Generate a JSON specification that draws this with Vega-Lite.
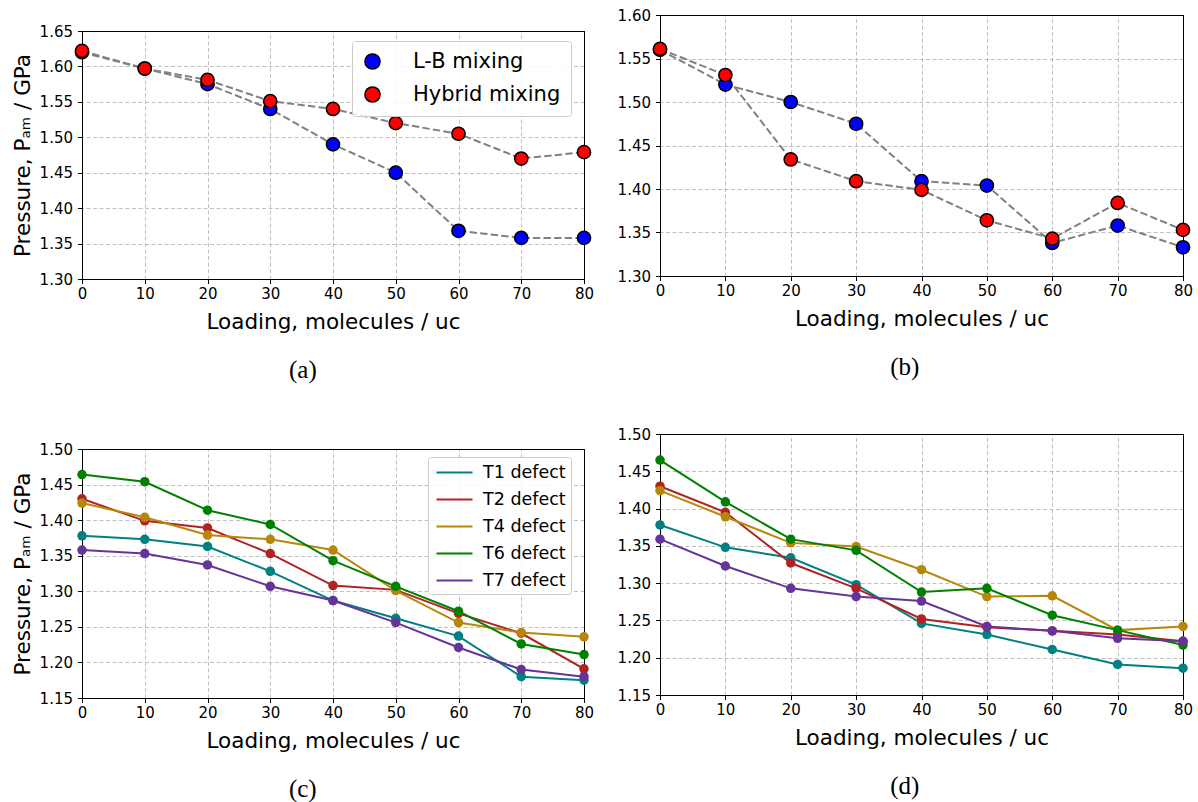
{
  "$schema": "https://vega.github.io/schema/vega-lite/v6.json",
  "padding": {"left": 11, "top": 7, "right": 0, "bottom": 0},
  "background": "white",
  "datasets": {
    "a": [
      {"x": 0, "p": 1.620, "s": "L-B mixing"},
      {"x": 10, "p": 1.597, "s": "L-B mixing"},
      {"x": 20, "p": 1.575, "s": "L-B mixing"},
      {"x": 30, "p": 1.540, "s": "L-B mixing"},
      {"x": 40, "p": 1.490, "s": "L-B mixing"},
      {"x": 50, "p": 1.450, "s": "L-B mixing"},
      {"x": 60, "p": 1.368, "s": "L-B mixing"},
      {"x": 70, "p": 1.358, "s": "L-B mixing"},
      {"x": 80, "p": 1.358, "s": "L-B mixing"},
      {"x": 0, "p": 1.622, "s": "Hybrid mixing"},
      {"x": 10, "p": 1.597, "s": "Hybrid mixing"},
      {"x": 20, "p": 1.581, "s": "Hybrid mixing"},
      {"x": 30, "p": 1.551, "s": "Hybrid mixing"},
      {"x": 40, "p": 1.540, "s": "Hybrid mixing"},
      {"x": 50, "p": 1.520, "s": "Hybrid mixing"},
      {"x": 60, "p": 1.505, "s": "Hybrid mixing"},
      {"x": 70, "p": 1.470, "s": "Hybrid mixing"},
      {"x": 80, "p": 1.479, "s": "Hybrid mixing"}
    ],
    "b": [
      {"x": 0, "p": 1.560, "s": "L-B mixing"},
      {"x": 10, "p": 1.520, "s": "L-B mixing"},
      {"x": 20, "p": 1.500, "s": "L-B mixing"},
      {"x": 30, "p": 1.475, "s": "L-B mixing"},
      {"x": 40, "p": 1.409, "s": "L-B mixing"},
      {"x": 50, "p": 1.404, "s": "L-B mixing"},
      {"x": 60, "p": 1.338, "s": "L-B mixing"},
      {"x": 70, "p": 1.358, "s": "L-B mixing"},
      {"x": 80, "p": 1.333, "s": "L-B mixing"},
      {"x": 0, "p": 1.561, "s": "Hybrid mixing"},
      {"x": 10, "p": 1.531, "s": "Hybrid mixing"},
      {"x": 20, "p": 1.434, "s": "Hybrid mixing"},
      {"x": 30, "p": 1.409, "s": "Hybrid mixing"},
      {"x": 40, "p": 1.399, "s": "Hybrid mixing"},
      {"x": 50, "p": 1.364, "s": "Hybrid mixing"},
      {"x": 60, "p": 1.343, "s": "Hybrid mixing"},
      {"x": 70, "p": 1.384, "s": "Hybrid mixing"},
      {"x": 80, "p": 1.353, "s": "Hybrid mixing"}
    ],
    "c": [
      {"x": 0, "p": 1.378, "s": "T1 defect"},
      {"x": 10, "p": 1.373, "s": "T1 defect"},
      {"x": 20, "p": 1.363, "s": "T1 defect"},
      {"x": 30, "p": 1.328, "s": "T1 defect"},
      {"x": 40, "p": 1.287, "s": "T1 defect"},
      {"x": 50, "p": 1.262, "s": "T1 defect"},
      {"x": 60, "p": 1.237, "s": "T1 defect"},
      {"x": 70, "p": 1.180, "s": "T1 defect"},
      {"x": 80, "p": 1.175, "s": "T1 defect"},
      {"x": 0, "p": 1.430, "s": "T2 defect"},
      {"x": 10, "p": 1.399, "s": "T2 defect"},
      {"x": 20, "p": 1.389, "s": "T2 defect"},
      {"x": 30, "p": 1.353, "s": "T2 defect"},
      {"x": 40, "p": 1.308, "s": "T2 defect"},
      {"x": 50, "p": 1.302, "s": "T2 defect"},
      {"x": 60, "p": 1.269, "s": "T2 defect"},
      {"x": 70, "p": 1.241, "s": "T2 defect"},
      {"x": 80, "p": 1.191, "s": "T2 defect"},
      {"x": 0, "p": 1.424, "s": "T4 defect"},
      {"x": 10, "p": 1.404, "s": "T4 defect"},
      {"x": 20, "p": 1.379, "s": "T4 defect"},
      {"x": 30, "p": 1.373, "s": "T4 defect"},
      {"x": 40, "p": 1.358, "s": "T4 defect"},
      {"x": 50, "p": 1.301, "s": "T4 defect"},
      {"x": 60, "p": 1.256, "s": "T4 defect"},
      {"x": 70, "p": 1.242, "s": "T4 defect"},
      {"x": 80, "p": 1.236, "s": "T4 defect"},
      {"x": 0, "p": 1.464, "s": "T6 defect"},
      {"x": 10, "p": 1.454, "s": "T6 defect"},
      {"x": 20, "p": 1.414, "s": "T6 defect"},
      {"x": 30, "p": 1.394, "s": "T6 defect"},
      {"x": 40, "p": 1.343, "s": "T6 defect"},
      {"x": 50, "p": 1.307, "s": "T6 defect"},
      {"x": 60, "p": 1.272, "s": "T6 defect"},
      {"x": 70, "p": 1.226, "s": "T6 defect"},
      {"x": 80, "p": 1.211, "s": "T6 defect"},
      {"x": 0, "p": 1.358, "s": "T7 defect"},
      {"x": 10, "p": 1.353, "s": "T7 defect"},
      {"x": 20, "p": 1.337, "s": "T7 defect"},
      {"x": 30, "p": 1.307, "s": "T7 defect"},
      {"x": 40, "p": 1.287, "s": "T7 defect"},
      {"x": 50, "p": 1.256, "s": "T7 defect"},
      {"x": 60, "p": 1.221, "s": "T7 defect"},
      {"x": 70, "p": 1.190, "s": "T7 defect"},
      {"x": 80, "p": 1.180, "s": "T7 defect"}
    ],
    "d": [
      {"x": 0, "p": 1.378, "s": "T1 defect"},
      {"x": 10, "p": 1.348, "s": "T1 defect"},
      {"x": 20, "p": 1.334, "s": "T1 defect"},
      {"x": 30, "p": 1.298, "s": "T1 defect"},
      {"x": 40, "p": 1.246, "s": "T1 defect"},
      {"x": 50, "p": 1.231, "s": "T1 defect"},
      {"x": 60, "p": 1.211, "s": "T1 defect"},
      {"x": 70, "p": 1.191, "s": "T1 defect"},
      {"x": 80, "p": 1.186, "s": "T1 defect"},
      {"x": 0, "p": 1.430, "s": "T2 defect"},
      {"x": 10, "p": 1.395, "s": "T2 defect"},
      {"x": 20, "p": 1.327, "s": "T2 defect"},
      {"x": 30, "p": 1.293, "s": "T2 defect"},
      {"x": 40, "p": 1.252, "s": "T2 defect"},
      {"x": 50, "p": 1.241, "s": "T2 defect"},
      {"x": 60, "p": 1.236, "s": "T2 defect"},
      {"x": 70, "p": 1.231, "s": "T2 defect"},
      {"x": 80, "p": 1.222, "s": "T2 defect"},
      {"x": 0, "p": 1.424, "s": "T4 defect"},
      {"x": 10, "p": 1.389, "s": "T4 defect"},
      {"x": 20, "p": 1.354, "s": "T4 defect"},
      {"x": 30, "p": 1.349, "s": "T4 defect"},
      {"x": 40, "p": 1.318, "s": "T4 defect"},
      {"x": 50, "p": 1.282, "s": "T4 defect"},
      {"x": 60, "p": 1.283, "s": "T4 defect"},
      {"x": 70, "p": 1.237, "s": "T4 defect"},
      {"x": 80, "p": 1.242, "s": "T4 defect"},
      {"x": 0, "p": 1.465, "s": "T6 defect"},
      {"x": 10, "p": 1.409, "s": "T6 defect"},
      {"x": 20, "p": 1.359, "s": "T6 defect"},
      {"x": 30, "p": 1.344, "s": "T6 defect"},
      {"x": 40, "p": 1.288, "s": "T6 defect"},
      {"x": 50, "p": 1.293, "s": "T6 defect"},
      {"x": 60, "p": 1.257, "s": "T6 defect"},
      {"x": 70, "p": 1.237, "s": "T6 defect"},
      {"x": 80, "p": 1.217, "s": "T6 defect"},
      {"x": 0, "p": 1.359, "s": "T7 defect"},
      {"x": 10, "p": 1.323, "s": "T7 defect"},
      {"x": 20, "p": 1.293, "s": "T7 defect"},
      {"x": 30, "p": 1.282, "s": "T7 defect"},
      {"x": 40, "p": 1.276, "s": "T7 defect"},
      {"x": 50, "p": 1.242, "s": "T7 defect"},
      {"x": 60, "p": 1.236, "s": "T7 defect"},
      {"x": 70, "p": 1.226, "s": "T7 defect"},
      {"x": 80, "p": 1.222, "s": "T7 defect"}
    ]
  },
  "config": {
    "font": "DejaVu Sans",
    "view": {"stroke": "#000000", "strokeWidth": 1},
    "axis": {
      "labelFont": "DejaVu Sans", "labelFontSize": 15, "labelColor": "#000000",
      "titleFont": "DejaVu Sans", "titleFontSize": 21.5, "titleFontWeight": "normal", "titleColor": "#000000",
      "domainColor": "#000000", "domainWidth": 1, "tickColor": "#000000", "tickSize": 4.5, "tickWidth": 1,
      "gridColor": "#b0b0b0", "gridDash": [4, 2.5], "gridWidth": 0.8, "labelFlush": false
    },
    "axisX": {"labelPadding": 3, "titlePadding": 10},
    "axisY": {"labelPadding": 5, "titlePadding": 5},
    "title": {"font": "Liberation Serif", "fontSize": 25, "fontWeight": "normal", "color": "#000000", "anchor": "middle", "frame": "bounds"},
    "legend": {"labelFont": "DejaVu Sans", "labelColor": "#000000", "fillColor": "rgba(255,255,255,0.85)", "strokeColor": "#cccccc", "cornerRadius": 3}
  },
  "spacing": 21,
  "resolve": {"scale": {"color": "independent", "fill": "independent"}, "legend": {"color": "independent", "fill": "independent"}},
  "hconcat": [
    {
      "spacing": 7,
      "resolve": {"scale": {"color": "independent", "fill": "independent"}, "legend": {"color": "independent", "fill": "independent"}},
      "vconcat": [
        {
          "width": 502, "height": 1,
          "data": {"values": []},
          "mark": {"type": "point"},
          "view": {"stroke": null}
        },
        {
          "spacing": 57,
          "resolve": {"scale": {"color": "independent", "fill": "independent"}, "legend": {"color": "independent", "fill": "independent"}},
          "vconcat": [
            {
              "width": 502, "height": 248,
              "data": {"name": "a"},
              "title": {"text": "(a)", "orient": "bottom", "offset": 25},
              "resolve": {"axis": {"x": "independent", "y": "independent"}},
              "layer": [
                {"mark": {"type": "line", "color": "#808080", "strokeDash": [7.4, 3.2], "strokeWidth": 2},
                 "encoding": {
                   "x": {"field": "x", "type": "quantitative", "scale": {"domain": [0, 80], "nice": false}, "axis": {"values": [0, 10, 20, 30, 40, 50, 60, 70, 80], "title": "Loading, molecules / uc", "grid": false}},
                   "y": {"field": "p", "type": "quantitative", "scale": {"domain": [1.30, 1.65], "nice": false, "zero": false}, "axis": {"values": [1.30, 1.35, 1.40, 1.45, 1.50, 1.55, 1.60, 1.65], "format": ".2f", "title": "Pressure, Pₐₘ / GPa", "grid": false}},
                   "detail": {"field": "s"}}},
                {"mark": {"type": "point", "shape": "circle", "filled": true, "stroke": "#000000", "strokeWidth": 1.5, "size": 175, "opacity": 1},
                 "encoding": {
                   "x": {"field": "x", "type": "quantitative", "scale": {"domain": [0, 80], "nice": false}, "axis": {"orient": "top", "values": [10, 20, 30, 40, 50, 60, 70], "grid": true, "labels": false, "ticks": false, "domain": true, "title": null}},
                   "y": {"field": "p", "type": "quantitative", "scale": {"domain": [1.30, 1.65], "nice": false, "zero": false}, "axis": {"orient": "right", "values": [1.35, 1.40, 1.45, 1.50, 1.55, 1.60], "grid": true, "labels": false, "ticks": false, "domain": true, "title": null}},
                   "fill": {"field": "s", "type": "nominal", "scale": {"domain": ["L-B mixing", "Hybrid mixing"], "range": ["#0000ff", "#ff0000"]},
                   "legend": {"title": null, "orient": "none", "legendX": 270, "legendY": 10, "labelFontSize": 21, "symbolType": "circle", "symbolSize": 230, "symbolStrokeColor": "#000000", "symbolStrokeWidth": 1.5, "symbolOpacity": 1, "labelOffset": 30, "padding": 10, "rowPadding": 10, "symbolOffset": 0}}}}
              ]
            },
            {
              "width": 502, "height": 249,
              "data": {"name": "c"},
              "title": {"text": "(c)", "orient": "bottom", "offset": 25},
              "resolve": {"axis": {"x": "independent", "y": "independent"}},
              "layer": [
                {"mark": {"type": "line", "strokeWidth": 2},
                 "encoding": {
                   "x": {"field": "x", "type": "quantitative", "scale": {"domain": [0, 80], "nice": false}, "axis": {"values": [0, 10, 20, 30, 40, 50, 60, 70, 80], "title": "Loading, molecules / uc", "grid": false}},
                   "y": {"field": "p", "type": "quantitative", "scale": {"domain": [1.15, 1.50], "nice": false, "zero": false}, "axis": {"values": [1.15, 1.20, 1.25, 1.30, 1.35, 1.40, 1.45, 1.50], "format": ".2f", "title": "Pressure, Pₐₘ / GPa", "grid": false}},
                   "color": {"field": "s", "type": "nominal", "scale": {"domain": ["T1 defect", "T2 defect", "T4 defect", "T6 defect", "T7 defect"], "range": ["#008080", "#b22222", "#b8860b", "#008000", "#663399"]},
                     "legend": {"title": null, "orient": "none", "legendX": 346, "legendY": 8, "labelFontSize": 17.5, "symbolType": "M-2,0H2", "symbolSize": 324, "symbolStrokeWidth": 2.2, "symbolFillColor": "transparent", "labelOffset": 18, "symbolOffset": 11, "padding": 5, "rowPadding": 8}}}},
                {"mark": {"type": "circle", "size": 90, "opacity": 1},
                 "encoding": {
                   "x": {"field": "x", "type": "quantitative", "scale": {"domain": [0, 80], "nice": false}, "axis": {"orient": "top", "values": [10, 20, 30, 40, 50, 60, 70], "grid": true, "labels": false, "ticks": false, "domain": true, "title": null}},
                   "y": {"field": "p", "type": "quantitative", "scale": {"domain": [1.15, 1.50], "nice": false, "zero": false}, "axis": {"orient": "right", "values": [1.20, 1.25, 1.30, 1.35, 1.40, 1.45], "grid": true, "labels": false, "ticks": false, "domain": true, "title": null}},
                   "color": {"field": "s", "type": "nominal", "scale": {"domain": ["T1 defect", "T2 defect", "T4 defect", "T6 defect", "T7 defect"], "range": ["#008080", "#b22222", "#b8860b", "#008000", "#663399"]}}}}
              ]
            }
          ]
        }
      ]
    },
    {
      "spacing": 45,
      "resolve": {"scale": {"color": "independent", "fill": "independent"}, "legend": {"color": "independent", "fill": "independent"}},
      "vconcat": [
        {
          "width": 523, "height": 261,
          "data": {"name": "b"},
          "title": {"text": "(b)", "orient": "bottom", "offset": 25},
          "resolve": {"axis": {"x": "independent", "y": "independent"}},
          "layer": [
            {"mark": {"type": "line", "color": "#808080", "strokeDash": [7.4, 3.2], "strokeWidth": 2},
             "encoding": {
               "x": {"field": "x", "type": "quantitative", "scale": {"domain": [0, 80], "nice": false}, "axis": {"values": [0, 10, 20, 30, 40, 50, 60, 70, 80], "title": "Loading, molecules / uc", "grid": false}},
               "y": {"field": "p", "type": "quantitative", "scale": {"domain": [1.30, 1.60], "nice": false, "zero": false}, "axis": {"values": [1.30, 1.35, 1.40, 1.45, 1.50, 1.55, 1.60], "format": ".2f", "title": null, "grid": false}},
               "detail": {"field": "s"}}},
            {"mark": {"type": "point", "shape": "circle", "filled": true, "stroke": "#000000", "strokeWidth": 1.5, "size": 175, "opacity": 1},
             "encoding": {
               "x": {"field": "x", "type": "quantitative", "scale": {"domain": [0, 80], "nice": false}, "axis": {"orient": "top", "values": [10, 20, 30, 40, 50, 60, 70], "grid": true, "labels": false, "ticks": false, "domain": true, "title": null}},
               "y": {"field": "p", "type": "quantitative", "scale": {"domain": [1.30, 1.60], "nice": false, "zero": false}, "axis": {"orient": "right", "values": [1.35, 1.40, 1.45, 1.50, 1.55], "grid": true, "labels": false, "ticks": false, "domain": true, "title": null}},
               "fill": {"field": "s", "type": "nominal", "scale": {"domain": ["L-B mixing", "Hybrid mixing"], "range": ["#0000ff", "#ff0000"]}, "legend": null}}}
          ]
        },
        {
          "width": 523, "height": 261,
          "data": {"name": "d"},
          "title": {"text": "(d)", "orient": "bottom", "offset": 25},
          "resolve": {"axis": {"x": "independent", "y": "independent"}},
          "layer": [
            {"mark": {"type": "line", "strokeWidth": 2},
             "encoding": {
               "x": {"field": "x", "type": "quantitative", "scale": {"domain": [0, 80], "nice": false}, "axis": {"values": [0, 10, 20, 30, 40, 50, 60, 70, 80], "title": "Loading, molecules / uc", "grid": false}},
               "y": {"field": "p", "type": "quantitative", "scale": {"domain": [1.15, 1.50], "nice": false, "zero": false}, "axis": {"values": [1.15, 1.20, 1.25, 1.30, 1.35, 1.40, 1.45, 1.50], "format": ".2f", "title": null, "grid": false}},
               "color": {"field": "s", "type": "nominal", "scale": {"domain": ["T1 defect", "T2 defect", "T4 defect", "T6 defect", "T7 defect"], "range": ["#008080", "#b22222", "#b8860b", "#008000", "#663399"]}, "legend": null}}},
            {"mark": {"type": "circle", "size": 90, "opacity": 1},
             "encoding": {
               "x": {"field": "x", "type": "quantitative", "scale": {"domain": [0, 80], "nice": false}, "axis": {"orient": "top", "values": [10, 20, 30, 40, 50, 60, 70], "grid": true, "labels": false, "ticks": false, "domain": true, "title": null}},
               "y": {"field": "p", "type": "quantitative", "scale": {"domain": [1.15, 1.50], "nice": false, "zero": false}, "axis": {"orient": "right", "values": [1.20, 1.25, 1.30, 1.35, 1.40, 1.45], "grid": true, "labels": false, "ticks": false, "domain": true, "title": null}},
               "color": {"field": "s", "type": "nominal", "scale": {"domain": ["T1 defect", "T2 defect", "T4 defect", "T6 defect", "T7 defect"], "range": ["#008080", "#b22222", "#b8860b", "#008000", "#663399"]}, "legend": null}}}
          ]
        }
      ]
    }
  ]
}
